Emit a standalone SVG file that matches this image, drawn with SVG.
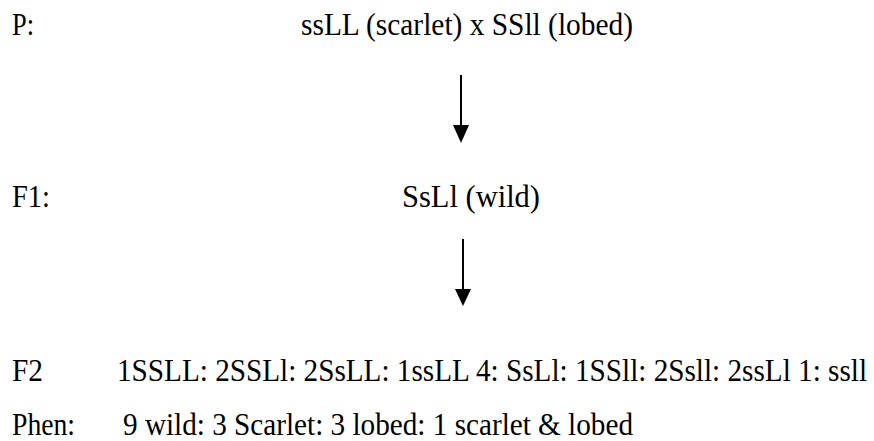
<svg xmlns="http://www.w3.org/2000/svg" width="874" height="441" viewBox="0 0 874 441">
<style>
text{font-family:'Liberation Serif','DejaVu Serif',serif;font-size:30.5px;fill:#000}
.conn line{stroke:#000;stroke-width:2}
.conn path{fill:#000}
</style>
<rect width="874" height="441" fill="#fff"/>
<g id="labels">
<text x="12" y="35" textLength="22" lengthAdjust="spacingAndGlyphs">P:</text>
<text x="12" y="207" textLength="38" lengthAdjust="spacingAndGlyphs">F1:</text>
<text x="12" y="381" textLength="31" lengthAdjust="spacingAndGlyphs">F2</text>
<text x="12" y="435" textLength="63" lengthAdjust="spacingAndGlyphs">Phen:</text>
</g>
<g id="node-p"><text x="301" y="35" textLength="332" lengthAdjust="spacingAndGlyphs">ssLL (scarlet) x SSll (lobed)</text></g>
<g id="node-f1"><text x="402" y="207" textLength="138" lengthAdjust="spacingAndGlyphs">SsLl (wild)</text></g>
<g id="node-f2"><text x="117" y="381" font-size="28.5" textLength="750" lengthAdjust="spacingAndGlyphs">1SSLL: 2SSLl: 2SsLL: 1ssLL 4: SsLl: 1SSll: 2Ssll: 2ssLl 1: ssll</text></g>
<g id="node-phen"><text x="123" y="435" textLength="510" lengthAdjust="spacingAndGlyphs">9 wild: 3 Scarlet: 3 lobed: 1 scarlet &amp; lobed</text></g>
<g id="connectors" class="conn">
<line x1="461" y1="75" x2="461" y2="130"/>
<path d="M453,125 L469,125 L461,143 Z"/>
<line x1="463" y1="239" x2="463" y2="294"/>
<path d="M455,289 L471,289 L463,306 Z"/>
</g>
</svg>
